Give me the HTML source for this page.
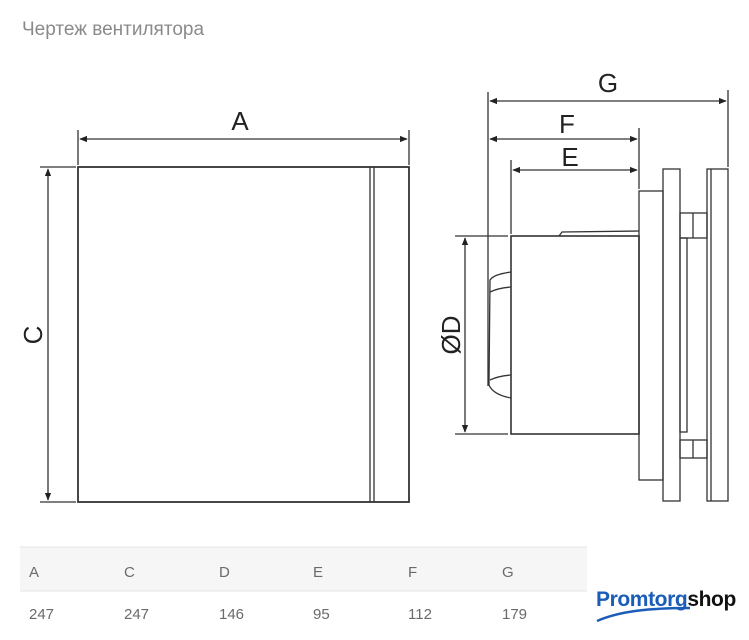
<!DOCTYPE html>
<html><head><meta charset="utf-8"><style>
html,body{margin:0;padding:0;background:#fff;width:749px;height:640px;overflow:hidden}
svg{display:block}
</style></head><body>
<svg width="749" height="640" viewBox="0 0 749 640" xmlns="http://www.w3.org/2000/svg">
<defs>
<marker id="ar" viewBox="0 0 10 10" refX="9" refY="5" markerWidth="8" markerHeight="8" orient="auto-start-reverse" markerUnits="userSpaceOnUse"><path d="M0,1 L10,5 L0,9 z" fill="#222"/></marker>
</defs>
<text x="22" y="35" font-family="Liberation Sans, sans-serif" font-size="19" fill="#8a8a8a">Чертеж вентилятора</text>
<g stroke="#333" stroke-width="1.3" fill="none">
<rect x="78" y="167" width="331" height="335" stroke-width="1.8"/>
<line x1="370" y1="167" x2="370" y2="502"/>
<line x1="374" y1="167" x2="374" y2="502"/>
<line x1="78" y1="130" x2="78" y2="165"/>
<line x1="409" y1="130" x2="409" y2="165"/>
<line x1="80" y1="139" x2="407" y2="139" marker-start="url(#ar)" marker-end="url(#ar)"/>
<line x1="40" y1="167" x2="76" y2="167"/>
<line x1="40" y1="502" x2="76" y2="502"/>
<line x1="48" y1="169" x2="48" y2="500" marker-start="url(#ar)" marker-end="url(#ar)"/>
<line x1="488" y1="92" x2="488" y2="386"/>
<path d="M511 272 C498 274 493 276 490 280 L489 385 C492 392 500 396 511 398"/>
<path d="M511 287 C500 288 494 290 490 292"/>
<path d="M511 375 C500 376 494 378 490 380"/>
<rect x="511" y="236" width="128" height="198" stroke-width="1.6"/>
<path d="M559 236 L562 232 L639 231"/>
<rect x="639" y="191" width="24" height="289"/>
<rect x="663" y="169" width="17" height="332"/>
<rect x="680" y="213" width="27" height="25"/>
<line x1="693" y1="213" x2="693" y2="238"/>
<rect x="680" y="440" width="27" height="18"/>
<line x1="693" y1="440" x2="693" y2="458"/>
<rect x="680" y="238" width="7" height="194"/>
<rect x="707" y="169" width="21" height="332"/>
<line x1="711" y1="169" x2="711" y2="501"/>
<line x1="728" y1="90" x2="728" y2="167"/>
<line x1="490" y1="101" x2="726" y2="101" marker-start="url(#ar)" marker-end="url(#ar)"/>
<line x1="639" y1="128" x2="639" y2="189"/>
<line x1="490" y1="139" x2="637" y2="139" marker-start="url(#ar)" marker-end="url(#ar)"/>
<line x1="511" y1="160" x2="511" y2="234"/>
<line x1="513" y1="170" x2="637" y2="170" marker-start="url(#ar)" marker-end="url(#ar)"/>
<line x1="455" y1="236" x2="508" y2="236"/>
<line x1="455" y1="434" x2="508" y2="434"/>
<line x1="465" y1="238" x2="465" y2="432" marker-start="url(#ar)" marker-end="url(#ar)"/>
</g>
<g font-family="Liberation Sans, sans-serif" font-size="26" fill="#222" text-anchor="middle">
<text x="240" y="130">A</text>
<text x="0" y="0" transform="translate(42,335) rotate(-90)">C</text>
<text x="608" y="92">G</text>
<text x="567" y="133">F</text>
<text x="570" y="166">E</text>
<text x="0" y="0" transform="translate(460,335) rotate(-90)">ØD</text>
</g>
<rect x="20" y="547" width="567" height="44" fill="#f6f6f6"/>
<line x1="20" y1="547" x2="587" y2="547" stroke="#e4e4e4"/>
<line x1="20" y1="591" x2="587" y2="591" stroke="#e4e4e4"/>
<g font-family="Liberation Sans, sans-serif" font-size="15" fill="#6a6a6a">
<text x="29" y="577">A</text><text x="124" y="577">C</text><text x="219" y="577">D</text><text x="313" y="577">E</text><text x="408" y="577">F</text><text x="502" y="577">G</text>
<text x="29" y="619">247</text><text x="124" y="619">247</text><text x="219" y="619">146</text><text x="313" y="619">95</text><text x="408" y="619">112</text><text x="502" y="619">179</text>
</g>
<text x="596" y="606" font-family="Liberation Sans, sans-serif" font-size="21" font-weight="bold" letter-spacing="-0.4"><tspan fill="#1a5cb8">Promtorg</tspan><tspan fill="#111">shop</tspan></text>
<path d="M597 621 C620 611 650 608 690 608" stroke="#1a5cb8" stroke-width="2.5" fill="none"/>
</svg>
</body></html>
